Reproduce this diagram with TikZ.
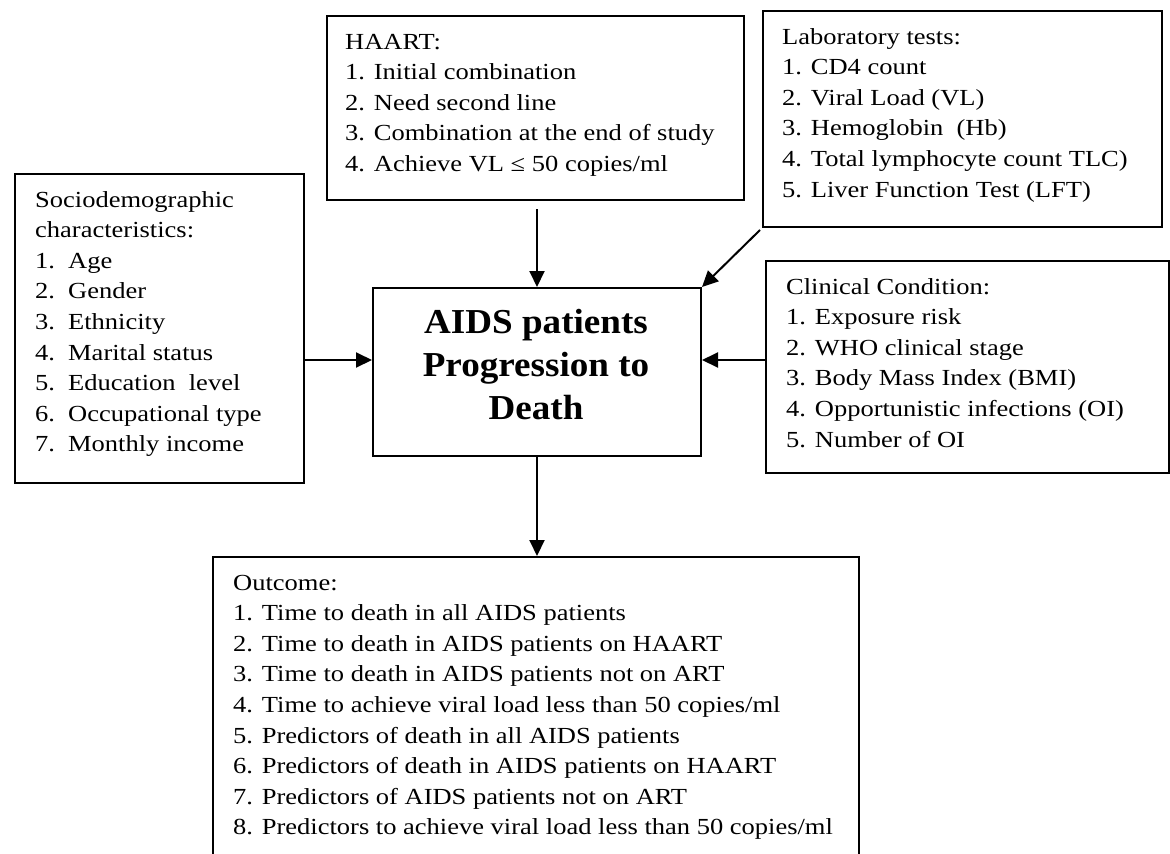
\documentclass[tikz,border=0pt]{standalone}
\usepackage{fontspec}
\usetikzlibrary{arrows.meta}
\newfontfamily\bodyfont[FakeStretch=1.152]{Liberation Serif}
\newfontfamily\headfont[FakeStretch=1.06]{Liberation Serif}
\newcommand\itemnum[1]{\makebox[33pt][l]{#1}}

\tikzset{
  frame/.style={draw, line width=2pt, inner sep=0pt, anchor=north west},
  body/.style={inner sep=0pt, anchor=base west,
    font=\bodyfont\fontsize{23pt}{30.6pt}\selectfont},
  head/.style={inner sep=0pt, anchor=base,
    font=\headfont\bfseries\fontsize{35pt}{43pt}\selectfont},
  link/.style={line width=2pt, -{Triangle[length=16pt,width=15pt]}},
}

\begin{document}
\begin{tikzpicture}[x=1pt,y=-1pt]
\fill[white] (0,0) rectangle (1170,854);
\clip (0,0) rectangle (1170,854);

% boxes
\node[frame, minimum width=417pt, minimum height=184pt] (haart) at (326,15) {};
\node[frame, minimum width=399pt, minimum height=216pt] (lab) at (762,10) {};
\node[frame, minimum width=289pt, minimum height=309pt] (socio) at (14,173) {};
\node[frame, minimum width=328pt, minimum height=168pt] (center) at (372,287) {};
\node[frame, minimum width=403pt, minimum height=212pt] (clin) at (765,260) {};
\node[frame, minimum width=646pt, minimum height=324pt] (outcome) at (212,556) {};

% box texts
\node[body] (haart-t) at (345,49) {\begin{tabular}[t]{@{}l@{}}
HAART:\\
1. Initial combination\\
2. Need second line\\
3. Combination at the end of study\\
4. Achieve VL ≤ 50 copies/ml
\end{tabular}};

\node[body] (lab-t) at (782,44) {\begin{tabular}[t]{@{}l@{}}
Laboratory tests:\\
1. CD4 count\\
2. Viral Load (VL)\\
3. Hemoglobin\ \ (Hb)\\
4. Total lymphocyte count TLC)\\
5. Liver Function Test (LFT)
\end{tabular}};

\node[body] (socio-t) at (35,207) {\begin{tabular}[t]{@{}l@{}}
Sociodemographic\\
characteristics:\\
\itemnum{1.}Age\\
\itemnum{2.}Gender\\
\itemnum{3.}Ethnicity\\
\itemnum{4.}Marital status\\
\itemnum{5.}Education\ \ level\\
\itemnum{6.}Occupational type\\
\itemnum{7.}Monthly income
\end{tabular}};

\node[body] (clin-t) at (786,294) {\begin{tabular}[t]{@{}l@{}}
Clinical Condition:\\
1. Exposure risk\\
2. WHO clinical stage\\
3. Body Mass Index (BMI)\\
4. Opportunistic infections (OI)\\
5. Number of OI
\end{tabular}};

\node[body] (out-t) at (233,590) {\begin{tabular}[t]{@{}l@{}}
Outcome:\\
1. Time to death in all AIDS patients\\
2. Time to death in AIDS patients on HAART\\
3. Time to death in AIDS patients not on ART\\
4. Time to achieve viral load less than 50 copies/ml\\
5. Predictors of death in all AIDS patients\\
6. Predictors of death in AIDS patients on HAART\\
7. Predictors of AIDS patients not on ART\\
8. Predictors to achieve viral load less than 50 copies/ml
\end{tabular}};

\node[head] (center-t) at (536,333) {\begin{tabular}[t]{@{}c@{}}
AIDS patients\\
Progression to\\
Death
\end{tabular}};

% connectors
\coordinate (lin) at ([yshift=12pt]center.west);
\coordinate (rin) at ([yshift=12pt]center.east);
\draw[link] (haart.south -| center.north) ++(0,8) -- (center.north);
\draw[link] (lab.south west) ++(-2,2) -- (center.north east);
\draw[link] (socio.east |- lin) -- (lin);
\draw[link] (clin.west |- rin) -- (rin);
\draw[link] (center.south) -- (outcome.north -| center.south);
\end{tikzpicture}
\end{document}
